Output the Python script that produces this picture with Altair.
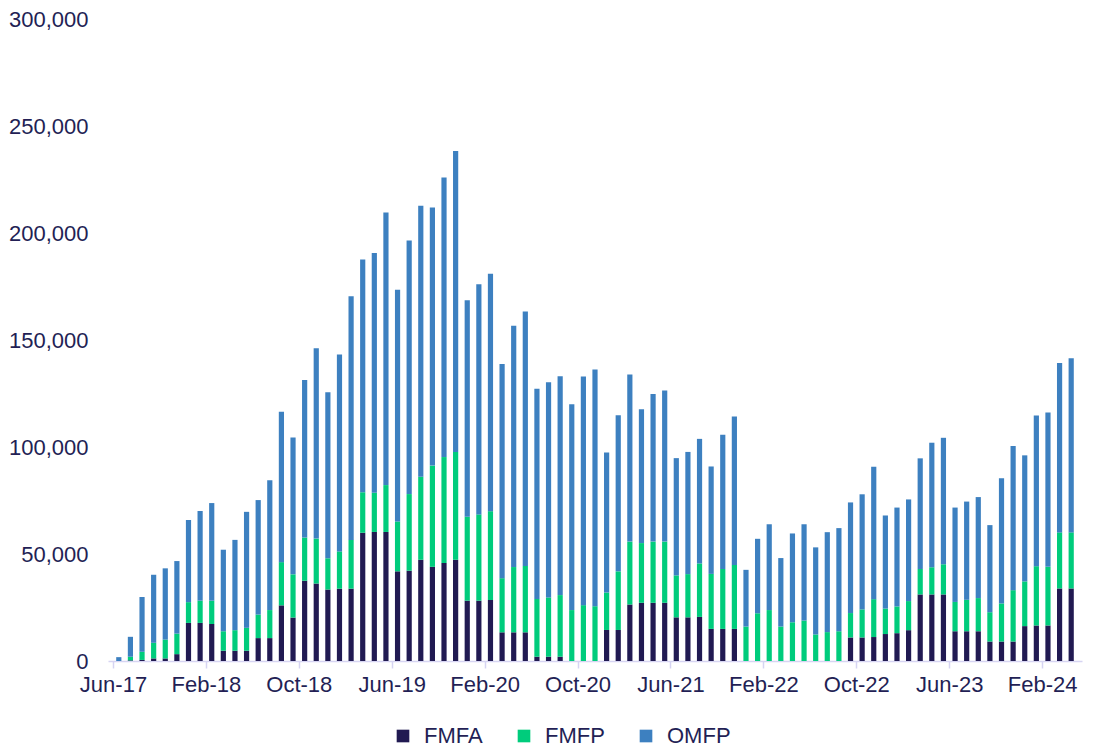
import altair as alt
import pandas as pd

# Month index 0 = Jun-17 ... 82 = Apr-24
tick_labels = ["Jun-17", "Feb-18", "Oct-18", "Jun-19", "Feb-20", "Oct-20",
               "Jun-21", "Feb-22", "Oct-22", "Jun-23", "Feb-24"]

# cumulative tops
fmfa = [0, 300, 500, 1200, 1200, 3200, 17800, 17800, 17300, 4800,
        4800, 4800, 10700, 10700, 26000, 20300, 37500, 36200, 33400, 33800,
        33800, 59900, 60300, 60300, 41900, 42200, 47300, 44000, 45800, 47300,
        28200, 28200, 28500, 13400, 13400, 13400, 2000, 2000, 2000, 0,
        0, 0, 14500, 14500, 26400, 27200, 27200, 27200, 20400, 20400,
        20600, 15000, 15000, 15000, 0, 0, 0, 0, 0, 0,
        0, 0, 0, 11000, 11000, 11200, 12600, 13000, 14400, 31100,
        31100, 31100, 13900, 13900, 13900, 9100, 9100, 9100, 16300, 16600,
        16600, 33900, 33900]
fmfp_top = [0, 2000, 4300, 8500, 10000, 12800, 27500, 28200, 28200, 13900,
            14400, 15500, 21700, 23800, 46200, 40500, 57700, 57200, 48000, 51200,
            56600, 78900, 78600, 82200, 65200, 78000, 86100, 91300, 95300, 97700,
            67400, 68500, 70000, 38700, 43900, 44400, 29000, 29700, 30800, 23800,
            26100, 25600, 32000, 41900, 55800, 55100, 55800, 55800, 40000, 40600,
            45600, 40700, 43000, 44900, 16100, 22300, 23800, 16100, 18100, 18900,
            12400, 13500, 13900, 22400, 24100, 28900, 24500, 25500, 28000, 43000,
            43800, 45200, 27600, 28600, 29400, 22800, 26900, 33100, 37200, 44300,
            44000, 60100, 60100]
total = [1800, 11300, 29900, 40300, 43300, 46700, 65900, 70100, 73800, 52000,
         56600, 69700, 75200, 84500, 116500, 104400, 131300, 146100, 125600, 143200,
         170400, 187600, 190700, 209600, 173500, 196500, 212700, 211900, 225900, 238300,
         168600, 176100, 180900, 138800, 156700, 163300, 127200, 130200, 133100, 120000,
         132900, 136200, 97400, 114800, 133900, 117600, 124800, 126400, 94800, 97700,
         103800, 90900, 105700, 114200, 42600, 57100, 63900, 48100, 59600, 63900,
         53100, 60200, 62100, 74100, 77900, 90800, 68000, 71700, 75500, 94700,
         102000, 104300, 71700, 74500, 76600, 63500, 85400, 100500, 96100, 114700,
         116100, 139200, 141500]

series = ["FMFA", "FMFP", "OMFP"]
colors = ["#211a52", "#00cc7c", "#3d80c0"]
text_color = "#231f55"
font = "Liberation Sans"

rows = []
for i in range(len(total)):
    vals = [fmfa[i], fmfp_top[i] - fmfa[i], total[i] - fmfp_top[i]]
    for k, (s, v) in enumerate(zip(series, vals)):
        rows.append({"idx": i, "series": s, "order": k, "value": v})
df = pd.DataFrame(rows)

n = len(total)
tick_vals = [i * 8 - 0.5 for i in range(len(tick_labels))]
label_arr = "[" + ",".join("'" + t + "'" for t in tick_labels) + "]"

chart = alt.Chart(df).mark_bar(size=5.2).encode(
    x=alt.X("idx:Q",
            scale=alt.Scale(domain=[-0.5, n - 0.5], nice=False, zero=False),
            axis=alt.Axis(values=tick_vals, title=None, grid=False,
                          labelExpr=label_arr + "[round((datum.value + 0.5) / 8)]",
                          domainColor="#d6d4f2", domainWidth=1.5,
                          tickColor="#d6d4f2", tickWidth=1.5, tickSize=7,
                          labelPadding=6, labelFontSize=22, labelColor=text_color,
                          labelFont=font, labelFlush=False, labelOverlap=False)),
    y=alt.Y("value:Q", stack="zero",
            scale=alt.Scale(domain=[0, 300000], nice=False),
            axis=alt.Axis(values=[0, 50000, 100000, 150000, 200000, 250000, 300000],
                          format=",.0f", title=None, grid=False, domain=False,
                          ticks=False, labelPadding=20, labelFontSize=22,
                          labelColor=text_color, labelFont=font)),
    color=alt.Color("series:N",
                    scale=alt.Scale(domain=series, range=colors),
                    legend=alt.Legend(title=None, orient="none", direction="horizontal",
                                      legendX=284, legendY=706,
                                      symbolType="square", symbolSize=160,
                                      symbolStrokeWidth=0, labelFontSize=22,
                                      labelColor=text_color, labelFont=font,
                                      labelOffset=10, columnPadding=30)),
    order=alt.Order("order:Q"),
).properties(
    width=974, height=642,
    autosize=alt.AutoSizeParams(type="none"),
    padding={"left": 100, "top": 11, "right": 4, "bottom": 89},
).configure_view(stroke=None)

chart.save("out.html", embed_options={"renderer": "svg", "actions": False})
